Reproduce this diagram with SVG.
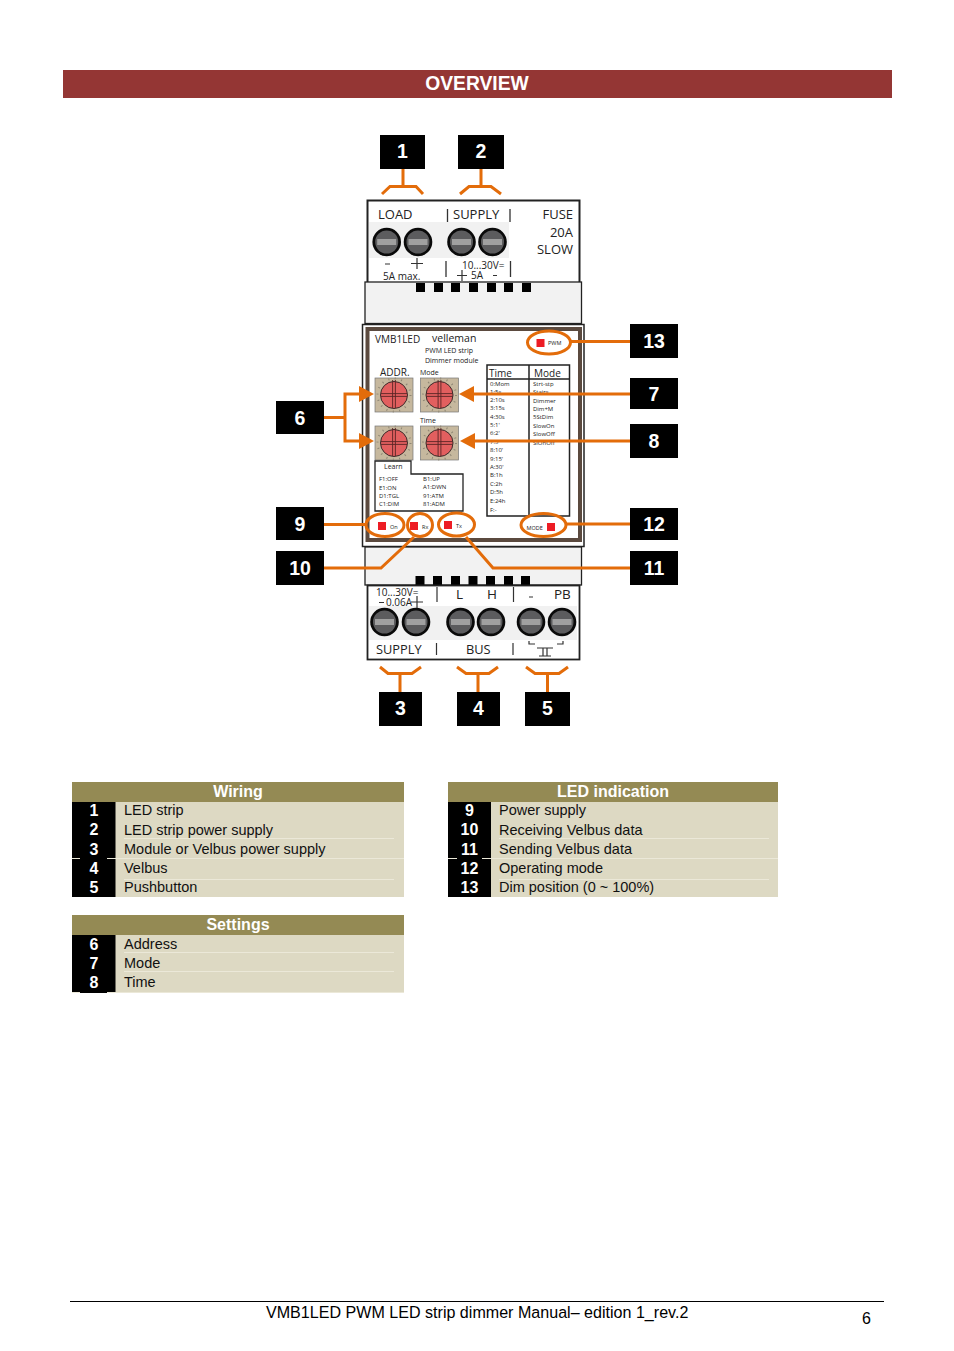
<svg xmlns="http://www.w3.org/2000/svg" width="954" height="1351" viewBox="0 0 954 1351">
<style>
text{font-family:"Liberation Sans",Arial,sans-serif;fill:#000}
.n{font-weight:bold;font-size:19.500px;fill:#fff;text-anchor:middle}
.tn{font-weight:bold;font-size:16px;fill:#fff;text-anchor:middle}
.th{font-weight:bold;font-size:16px;fill:#fff;text-anchor:middle}
.t{font-size:14.500px;fill:#111}
.p{font-family:"Open Sans","Noto Sans",sans-serif;fill:#222}
.s{font-size:6px}
.b{fill:#000}
.o{fill:none;stroke:#e36c0a;stroke-width:3}
.ar{fill:#e36c0a}
.l{fill:#ed1c24}
.sep{stroke:#ebe8d8;stroke-width:1;fill:none}
</style>
<defs>
<g id="term"><circle r="14.300" fill="#0a0a0a"/><circle r="11.500" fill="#5c5c5e"/><rect x="-9.500" y="-3" width="19" height="6" fill="#a0a0a0"/></g>
<g id="dial"><rect x="-19" y="-17" width="38" height="34" fill="#c6b89e" stroke="#777" stroke-width=".7"/><circle r="16.500" fill="none" stroke="#8f8775" stroke-width="2" stroke-dasharray="1 5.500"/><circle r="13.500" fill="#e25f5f" stroke="#3a2a2a" stroke-width="1"/><path d="M-13 -1.400H13M-13 1.400H13M-1.400 -15V13M1.400 -15V13" stroke="#5a2525" stroke-width=".9" fill="none"/></g>
</defs>

<g id="title"><rect x="63" y="70" width="829" height="28" fill="#943634"/><text x="477" y="90" font-size="19.300" font-weight="bold" text-anchor="middle" style="fill:#fff">OVERVIEW</text></g>

<g id="module">
<rect x="367.500" y="200.500" width="212" height="83" fill="#fff" stroke="#222" stroke-width="2"/>
<rect x="369" y="222" width="140" height="36" fill="#f1f1f1"/>
<use href="#term" x="386.700" y="242"/><use href="#term" x="418" y="242"/><use href="#term" x="461.500" y="242"/><use href="#term" x="492.500" y="242"/>
<text class="p" font-size="13" x="378" y="219">LOAD</text><text class="p" font-size="13" x="453" y="219">SUPPLY</text>
<text class="p" font-size="13" x="573" y="219" text-anchor="end">FUSE</text><text class="p" font-size="13" x="573" y="237" text-anchor="end">20A</text><text class="p" font-size="13" x="573" y="254" text-anchor="end">SLOW</text>
<path d="M447.500 209V222M510 209V222M446 261V277M510.500 261V277" stroke="#333" stroke-width="1.300"/>
<path d="M385 264H390M411 263.500H423M417 258V269M457 275.500H467M462 270V281M493 275.500H497" stroke="#333" stroke-width="1.200"/>
<text class="p" x="383" y="280" font-size="10">5A max.</text><text class="p" x="462" y="268.500" font-size="10">10...30V=</text><text class="p" x="471" y="279" font-size="10">5A</text>

<rect x="365" y="282" width="216.500" height="41.500" fill="#f2f2f2" stroke="#222" stroke-width="1.300"/>
<g class="b"><rect x="416" y="283" width="9" height="9"/><rect x="434" y="283" width="9" height="9"/><rect x="451" y="283" width="9" height="9"/><rect x="469" y="283" width="9" height="9"/><rect x="487" y="283" width="9" height="9"/><rect x="504" y="283" width="9" height="9"/><rect x="522" y="283" width="9" height="9"/></g>

<rect x="362.500" y="324.500" width="221.500" height="222" fill="#fff" stroke="#222" stroke-width="1.500"/>
<rect x="367.500" y="329" width="212.500" height="211" fill="#fff" stroke="#5b4a3f" stroke-width="4"/>
<text class="p" x="375" y="343" font-size="10">VMB1LED</text><text class="p" x="432" y="342" font-size="10.500">velleman</text>
<text class="p" x="425" y="353" font-size="7">PWM LED strip</text><text class="p" x="425" y="363" font-size="7">Dimmer module</text>
<text class="p" x="380" y="376" font-size="10">ADDR.</text><text class="p" x="420" y="375" font-size="7">Mode</text><text class="p" x="420" y="423" font-size="7">Time</text>
<use href="#dial" x="394" y="395"/><use href="#dial" x="439.500" y="395"/><use href="#dial" x="394" y="443"/><use href="#dial" x="439.500" y="443"/>

<path fill="none" stroke="#222" stroke-width="1.500" d="M487 365H569.500V516H487ZM529 365V516M487 379H569.500"/>
<text class="p" x="489" y="377" font-size="10">Time</text><text class="p" x="534" y="377" font-size="10">Mode</text>
<text class="p s" x="490" y="386">0:Mom</text><text class="p s" x="490" y="394">1:5s</text><text class="p s" x="490" y="402">2:10s</text><text class="p s" x="490" y="410">3:15s</text><text class="p s" x="490" y="419">4:30s</text><text class="p s" x="490" y="427">5:1'</text><text class="p s" x="490" y="435">6:2'</text><text class="p s" x="490" y="444">7:5'</text><text class="p s" x="490" y="452">8:10'</text><text class="p s" x="490" y="461">9:15'</text><text class="p s" x="490" y="469">A:30'</text><text class="p s" x="490" y="477">B:1h</text><text class="p s" x="490" y="486">C:2h</text><text class="p s" x="490" y="494">D:5h</text><text class="p s" x="490" y="503">E:24h</text><text class="p s" x="490" y="512">F:-</text>
<text class="p s" x="533" y="386">Strt-stp</text><text class="p s" x="533" y="394">Stairs</text><text class="p s" x="533" y="403">Dimmer</text><text class="p s" x="533" y="411">Dim+M</text><text class="p s" x="533" y="419">5StDim</text><text class="p s" x="533" y="428">SlowOn</text><text class="p s" x="533" y="436">SlowOff</text><text class="p s" x="533" y="445">SlOnOff</text>

<path d="M375 461H411V474H463V511H375Z" fill="#fff" stroke="#222" stroke-width="1.300"/>
<text class="p" x="384" y="469" font-size="7">Learn</text>
<text class="p s" x="379" y="481">F1:OFF</text><text class="p s" x="379" y="490">E1:ON</text><text class="p s" x="379" y="498">D1:TGL</text><text class="p s" x="379" y="506">C1:DIM</text>
<text class="p s" x="423" y="481">B1:UP</text><text class="p s" x="423" y="489">A1:DWN</text><text class="p s" x="423" y="498">91:ATM</text><text class="p s" x="423" y="506">81:ADM</text>

<rect class="l" x="536.500" y="339" width="8" height="8"/><text class="p" x="548" y="345" font-size="5.500">PWM</text>
<rect class="l" x="378" y="522" width="8" height="8"/><text class="p" x="390" y="528.500" font-size="5.500">On</text>
<rect class="l" x="410" y="522" width="8" height="8"/><text class="p" x="422" y="528.500" font-size="5.500">Rx</text>
<rect class="l" x="444" y="521" width="8" height="8"/><text class="p" x="456" y="527.500" font-size="5.500">Tx</text>
<rect class="l" x="547" y="523" width="8" height="8"/><text class="p" x="526.500" y="530" font-size="5.500">MODE</text>

<rect x="365" y="547" width="216.500" height="38" fill="#f2f2f2" stroke="#222" stroke-width="1.300"/>
<g class="b"><rect x="415.500" y="576" width="9" height="9"/><rect x="433" y="576" width="9" height="9"/><rect x="451" y="576" width="9" height="9"/><rect x="468.500" y="576" width="9" height="9"/><rect x="486" y="576" width="9" height="9"/><rect x="504" y="576" width="9" height="9"/><rect x="521" y="576" width="9" height="9"/></g>

<rect x="367.500" y="585.500" width="212" height="74" fill="#fff" stroke="#222" stroke-width="1.800"/>
<rect x="369" y="606" width="208" height="34" fill="#f1f1f1"/>
<use href="#term" x="384.500" y="622"/><use href="#term" x="416" y="622"/><use href="#term" x="460.500" y="622"/><use href="#term" x="491" y="622"/><use href="#term" x="531" y="622"/><use href="#term" x="562" y="622"/>
<text class="p" x="376" y="596" font-size="10">10...30V=</text><text class="p" x="386" y="606" font-size="10">0.06A</text>
<text class="p" x="456" y="599" font-size="13.500">L</text><text class="p" x="487" y="599" font-size="13.500">H</text><text class="p" x="554" y="599" font-size="13.500">PB</text>
<text class="p" x="376" y="654" font-size="12.800">SUPPLY</text><text class="p" x="466" y="654" font-size="12.800">BUS</text>
<path d="M437 587V602M513.500 587V602M436.500 643V655M513 643V655M379 602.500H384M411 602H423M417 596V608M529 597H533" stroke="#333" stroke-width="1.200"/>
<path d="M529 641V644H535M563 641V644H557M537 648H553M543 648V656M547 648V656M539 656H551" fill="none" stroke="#333" stroke-width="1.200"/>
</g>

<g id="connectors">
<path class="o" d="M403 169V186M382 194L390 186.500H416L423 194"/>
<path class="o" d="M481 169V186M460 194L469 186.500H491L501 194"/>
<path class="o" d="M400 692V674M380 667L388 673.500H412L421 667"/>
<path class="o" d="M478 692V674M457 667L466 673.500H489L498 667"/>
<path class="o" d="M547.500 692V674M526 667L535 673.500H559L568 667"/>
<path class="o" d="M324 417.500H345M360 394H345V441H360"/>
<path class="ar" d="M374 394L359 386V402ZM374 441L359 433V449Z"/>
<path class="o" d="M630 394H472M630 441H473"/>
<path class="ar" d="M459 394L474 386V402ZM460 441L475 433V449Z"/>
<path class="o" d="M630 341.500H570M324 524.500H366M630 524H566"/>
<path class="o" d="M324 568H381L414 537M630 568H493L466 537"/>
<ellipse class="o" cx="549" cy="342.500" rx="21.500" ry="11.500"/>
<ellipse class="o" cx="385" cy="525" rx="19" ry="11.500"/>
<ellipse class="o" cx="420" cy="525" rx="12.500" ry="11.500"/>
<ellipse class="o" cx="456.500" cy="524.500" rx="18" ry="11.500"/>
<ellipse class="o" cx="543.500" cy="525" rx="22.500" ry="11.500"/>
</g>

<g id="n1"><rect class="b" x="380" y="135" width="45" height="34"/><text class="n" x="402.500" y="158">1</text></g>
<g id="n2"><rect class="b" x="458" y="135" width="46" height="34"/><text class="n" x="481" y="158">2</text></g>
<g id="n3"><rect class="b" x="379" y="692" width="43" height="34"/><text class="n" x="400.500" y="715">3</text></g>
<g id="n4"><rect class="b" x="457" y="692" width="43" height="34"/><text class="n" x="478.500" y="715">4</text></g>
<g id="n5"><rect class="b" x="525" y="692" width="45" height="34"/><text class="n" x="547.500" y="715">5</text></g>
<g id="n6"><rect class="b" x="276" y="401" width="48" height="33"/><text class="n" x="300" y="424.500">6</text></g>
<g id="n7"><rect class="b" x="630" y="378" width="48" height="31"/><text class="n" x="654" y="401">7</text></g>
<g id="n8"><rect class="b" x="630" y="424" width="48" height="34"/><text class="n" x="654" y="447.500">8</text></g>
<g id="n9"><rect class="b" x="276" y="507" width="48" height="33"/><text class="n" x="300" y="530.500">9</text></g>
<g id="n10"><rect class="b" x="276" y="551" width="48" height="34"/><text class="n" x="300" y="574.500">10</text></g>
<g id="n11"><rect class="b" x="630" y="551" width="48" height="34"/><text class="n" x="654" y="574.500">11</text></g>
<g id="n12"><rect class="b" x="630" y="508" width="48" height="32"/><text class="n" x="654" y="530.500">12</text></g>
<g id="n13"><rect class="b" x="630" y="324" width="48" height="34"/><text class="n" x="654" y="347.500">13</text></g>

<g id="wiring">
<rect x="72" y="782" width="332" height="20" fill="#948a54"/><text class="th" x="238" y="797">Wiring</text>
<rect x="115" y="802" width="289" height="95" fill="#ddd9c3"/><rect class="b" x="72" y="802" width="43.500" height="95"/>
<path class="sep" d="M124 838.500H394M72 858.500H80M107 858.500H404M124 879.500H394"/>
<text class="tn" x="94" y="815.500">1</text><text class="tn" x="94" y="834.500">2</text><text class="tn" x="94" y="854.500">3</text><text class="tn" x="94" y="873.500">4</text><text class="tn" x="94" y="892.500">5</text>
<text class="t" x="124" y="815">LED strip</text><text class="t" x="124" y="835">LED strip power supply</text><text class="t" x="124" y="854">Module or Velbus power supply</text><text class="t" x="124" y="873">Velbus</text><text class="t" x="124" y="892">Pushbutton</text>
</g>
<g id="settings">
<rect x="72" y="915" width="332" height="20" fill="#948a54"/><text class="th" x="238" y="930">Settings</text>
<rect x="115" y="935" width="289" height="58" fill="#ddd9c3"/><rect class="b" x="72" y="935" width="43.500" height="58"/>
<path class="sep" d="M124 952.500H394M124 971.500H394M72 992.500H80M107 992.500H404"/>
<text class="tn" x="94" y="949.500">6</text><text class="tn" x="94" y="968.500">7</text><text class="tn" x="94" y="987.500">8</text>
<text class="t" x="124" y="949">Address</text><text class="t" x="124" y="968">Mode</text><text class="t" x="124" y="987">Time</text>
</g>
<g id="led">
<rect x="448" y="782" width="330" height="20" fill="#948a54"/><text class="th" x="613" y="797">LED indication</text>
<rect x="490" y="802" width="288" height="95" fill="#ddd9c3"/><rect class="b" x="448" y="802" width="43" height="95"/>
<path class="sep" d="M499 838.500H769M448 858.500H457M482 858.500H778M499 879.500H769"/>
<text class="tn" x="469.500" y="815.500">9</text><text class="tn" x="469.500" y="834.500">10</text><text class="tn" x="469.500" y="854.500">11</text><text class="tn" x="469.500" y="873.500">12</text><text class="tn" x="469.500" y="892.500">13</text>
<text class="t" x="499" y="815">Power supply</text><text class="t" x="499" y="835">Receiving Velbus data</text><text class="t" x="499" y="854">Sending Velbus data</text><text class="t" x="499" y="873">Operating mode</text><text class="t" x="499" y="892">Dim position (0 ~ 100%)</text>
</g>
<g id="footer">
<path d="M70 1301.500H884" stroke="#000" stroke-width="1"/>
<text x="266" y="1318" font-size="16.080">VMB1LED PWM LED strip dimmer Manual– edition 1_rev.2</text>
<text x="862" y="1324" font-size="16">6</text>
</g>
</svg>
